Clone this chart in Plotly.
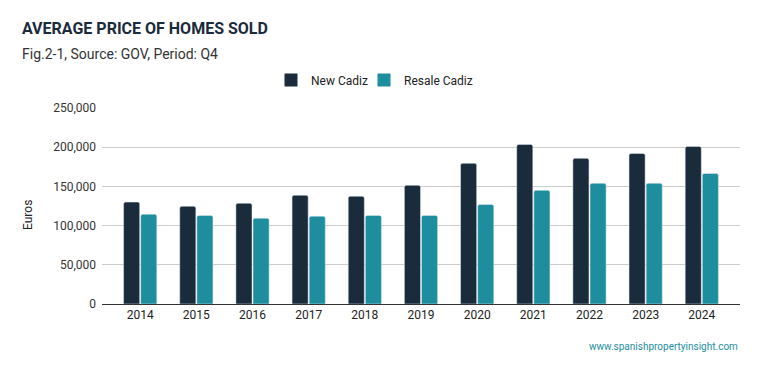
import plotly.graph_objects as go

years = ["2014", "2015", "2016", "2017", "2018", "2019", "2020", "2021", "2022", "2023", "2024"]
new_cadiz = [130000, 124700, 128500, 138700, 137400, 151400, 179400, 203600, 185800, 192000, 201000]
resale_cadiz = [114500, 113000, 109400, 112000, 113000, 113000, 127000, 145000, 154000, 154000, 166500]
y_ticks = [0, 50000, 100000, 150000, 200000, 250000]
series_names = ["New Cadiz", "Resale Cadiz"]

DARK = "#1a2b3b"
TEAL = "#1e8e9e"
FONT = "Roboto"

W, H = 759, 371
L, R, T, B = 102, 19, 108, 67
plot_h = H - T - B
plot_w = W - L - R


def py(pix):
    return (H - B - pix) / plot_h


def px(pix):
    return (pix - L) / plot_w


fig = go.Figure()
for name, vals, col in [(series_names[0], new_cadiz, DARK), (series_names[1], resale_cadiz, TEAL)]:
    fig.add_trace(go.Bar(x=years, y=vals, name=name, marker_color=col, showlegend=False,
                         legendgroup=name))
# legend entries with square swatches, one legend box per series
for name, col, lg in [(series_names[0], DARK, "legend"), (series_names[1], TEAL, "legend2")]:
    fig.add_trace(go.Scatter(x=[None], y=[None], mode="markers", name=name, legendgroup=name,
                             legend=lg, marker=dict(symbol="square", size=13, color=col)))

legend_style = dict(orientation="h", xref="paper", xanchor="left", yref="paper", y=py(80),
                    yanchor="middle", font=dict(size=12, color="#222"), itemwidth=30,
                    bgcolor="rgba(0,0,0,0)")

fig.update_layout(
    width=W, height=H,
    margin=dict(l=L, r=R, t=T, b=B, autoexpand=False),
    paper_bgcolor="white", plot_bgcolor="white",
    font=dict(family=FONT, size=12, color="#222"),
    barmode="group", bargap=0.39, bargroupgap=0.06, barcornerradius=2,
    showlegend=True,
    legend=dict(x=px(271), **legend_style),
    legend2=dict(x=px(364), **legend_style),
    xaxis=dict(type="category", range=[-0.68, 10.68], showgrid=False,
               showline=True, linecolor="#333", linewidth=1, ticks="", tickangle=0,
               tickfont=dict(size=12, color="#222")),
    yaxis=dict(range=[0, 250000], tickvals=y_ticks, tickformat=",", showgrid=True,
               gridcolor="#cccccc", gridwidth=1, zeroline=False, ticks="",
               ticklabelstandoff=5,
               tickfont=dict(size=12, color="#333")),
)

fig.add_annotation(text="<b>AVERAGE PRICE OF HOMES SOLD</b>", xref="paper", yref="paper",
                   x=px(20), y=py(28), xanchor="left", yanchor="middle", showarrow=False,
                   font=dict(size=16, color=DARK, family=FONT))
fig.add_annotation(text="Fig.2-1, Source: GOV, Period: Q4", xref="paper", yref="paper",
                   x=px(20), y=py(54), xanchor="left", yanchor="middle", showarrow=False,
                   font=dict(size=14, color="#333", family=FONT))
fig.add_annotation(text="Euros", xref="paper", yref="paper", textangle=-90,
                   x=px(28), y=py(215), xanchor="center", yanchor="middle", showarrow=False,
                   font=dict(size=12, color="#222", family=FONT))
fig.add_annotation(text="www.spanishpropertyinsight.com", xref="paper", yref="paper",
                   x=px(740), y=py(346), xanchor="right", yanchor="middle", showarrow=False,
                   font=dict(size=10, color=TEAL, family=FONT))

fig.write_html("out.html", config={"displayModeBar": False},
               post_script="document.body.style.margin='0';document.body.style.padding='0';")
